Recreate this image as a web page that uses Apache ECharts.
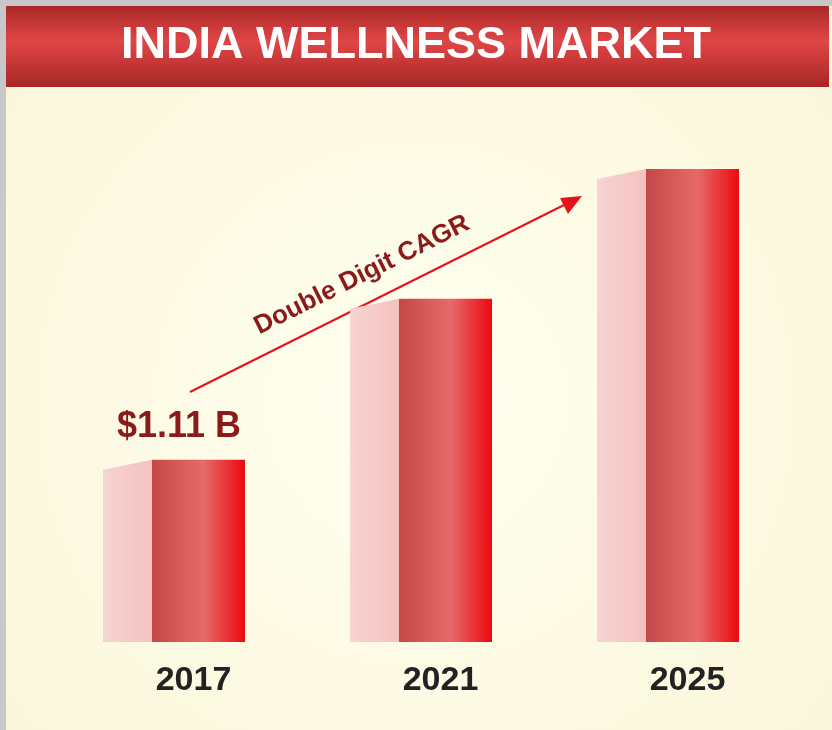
<!DOCTYPE html>
<html><head><meta charset="utf-8">
<script src="https://cdn.jsdelivr.net/npm/echarts@6/dist/echarts.min.js"></script>
<style>html,body{margin:0;padding:0;}#c{width:832px;height:730px;}</style>
</head><body><div id="c"></div>
<script>
const categories = ['2017', '2021', '2025'];
const values = [1.11, 2.09, 2.88];
const firstLabel = '$1.11 B';
const titleText = 'INDIA WELLNESS MARKET';
const arrowText = 'Double Digit CAGR';

const chart = echarts.init(document.getElementById('c'));
const frontW = 93, sideW = 49, slant = 10;
chart.setOption({
  animation: false,
  backgroundColor: {type:'radial', x:0.5, y:0.55, r:0.7, colorStops:[{offset:0,color:'#fffff0'},{offset:1,color:'#fbf7dc'}]},
  graphic: [
    {type:'rect', left:0, top:0, shape:{width:832,height:730}, style:{fill:'none', stroke:'#c8c8c8', lineWidth:6}, z:100},
    {type:'rect', shape:{x:3,y:4,width:826,height:83}, style:{fill:{type:'linear',x:0,y:0,x2:0,y2:1,colorStops:[{offset:0,color:'#a82626'},{offset:0.45,color:'#e04646'},{offset:1,color:'#a82626'}]}}},
    {type:'text', x:416, y:46, style:{text:titleText, fill:'#fff', font:'bold 45px Arial, "Liberation Sans", sans-serif', align:'center', verticalAlign:'middle'}},
    {type:'line', shape:{x1:190,y1:392,x2:566,y2:204}, style:{stroke:'#e8101a', lineWidth:2}},
    {type:'polygon', shape:{points:[[582,196],[560,198],[568,214]]}, style:{fill:'#e8101a'}},
    {type:'text', x:362, y:275, rotation:26.6*Math.PI/180, style:{text:arrowText, fill:'#8b1a1a', font:'bold 26px Arial, "Liberation Sans", sans-serif', align:'center', verticalAlign:'middle'}}
  ],
  grid: {left:70, right:21, top:100, bottom:88},
  xAxis: {type:'category', data:categories, axisLine:{show:false}, axisTick:{show:false},
    axisLabel:{color:'#222', fontSize:34, fontWeight:'bold', fontFamily:'Arial, "Liberation Sans", sans-serif', margin:22,
      formatter:(v,i)=>v}},
  yAxis: {type:'value', min:0, max:3.3, show:false, splitLine:{show:false}},
  series: [{
    type:'custom',
    data: values.map((v,i)=>[i,v]),
    renderItem: (params, api) => {
      const top = api.coord([api.value(0), api.value(1)]);
      const base = api.coord([api.value(0), 0]);
      const fx = top[0] - frontW/2 + 5;
      const children = [
        {type:'polygon', shape:{points:[[fx-sideW, top[1]+slant],[fx, top[1]],[fx, base[1]],[fx-sideW, base[1]]]},
          style:{fill:{type:'linear',x:0,y:0,x2:1,y2:0,colorStops:[{offset:0,color:'#f7d4d2'},{offset:1,color:'#f4c2c0'}]}}},
        {type:'rect', shape:{x:fx, y:top[1], width:frontW, height:base[1]-top[1]},
          style:{fill:{type:'linear',x:0,y:0,x2:1,y2:0,colorStops:[{offset:0,color:'#c44848'},{offset:0.55,color:'#e66a6a'},{offset:1,color:'#ec0a10'}]}}}
      ];
      if (params.dataIndex === 0) {
        children.push({type:'text', style:{x:fx-35, y:top[1]-33, text:firstLabel, fill:'#8b1a1a', font:'bold 36px Arial, "Liberation Sans", sans-serif', align:'left', verticalAlign:'middle'}});
      }
      return {type:'group', children};
    }
  }]
});
</script></body></html>
